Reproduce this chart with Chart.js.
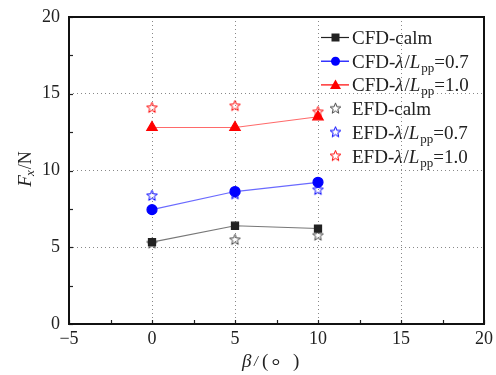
<!DOCTYPE html>
<html><head><meta charset="utf-8">
<script src="https://cdn.jsdelivr.net/npm/chart.js@4/dist/chart.umd.min.js"></script>
<style>html,body{margin:0;padding:0;background:#fff}#wrap{width:496px;height:375px;position:relative}</style>
</head><body><div id="wrap"><canvas id="c" width="496" height="375"></canvas></div>
<script>
const xValues = [0, 5, 10];
const cfdCalm = [5.33, 6.4, 6.22];
const cfd07 = [7.45, 8.63, 9.23];
const cfd10 = [12.8, 12.8, 13.5];
const efdCalm = [5.27, 5.5, 5.78];
const efd07 = [8.37, 8.47, 8.75];
const efd10 = [14.1, 14.22, 13.83];
const xTicks = [-5, 0, 5, 10, 15, 20];
const yTicks = [0, 5, 10, 15, 20];
const legendLabels = [
  "CFD-calm",
  "CFD-{i:λ}/{i:L}{s:pp}=0.7",
  "CFD-{i:λ}/{i:L}{s:pp}=1.0",
  "EFD-calm",
  "EFD-{i:λ}/{i:L}{s:pp}=0.7",
  "EFD-{i:λ}/{i:L}{s:pp}=1.0"
];

const SERIF = '"Liberation Serif","DejaVu Serif",serif';

function starCanvas(color) {
  const c = document.createElement('canvas');
  c.width = 13; c.height = 13;
  const g = c.getContext('2d');
  g.strokeStyle = color; g.lineWidth = 1;
  g.beginPath();
  const R = 5.6, r = 2.4, cx = 6.5, cy = 6.8;
  for (let k = 0; k < 10; k++) {
    const rad = k % 2 === 0 ? R : r;
    const a = -Math.PI / 2 + k * Math.PI / 5;
    const x = cx + rad * Math.cos(a), y = cy + rad * Math.sin(a);
    if (k === 0) g.moveTo(x, y); else g.lineTo(x, y);
  }
  g.closePath(); g.stroke();
  return c;
}

const pts = arr => xValues.map((x, i) => ({x: x, y: arr[i]}));

const datasets = [
  {data: pts(cfdCalm), showLine: true, borderColor: '#777', backgroundColor: '#222', pointStyle: 'rect', pointRadius: 5, pointBorderColor: '#222', borderWidth: 1.2, mk: 'rect'},
  {data: pts(cfd07), showLine: true, borderColor: '#6a6aff', backgroundColor: '#0000ff', pointStyle: 'circle', pointRadius: 5, pointBorderColor: '#0000ff', borderWidth: 1.2, mk: 'circle'},
  {data: pts(cfd10), showLine: true, borderColor: '#ff6a6a', backgroundColor: '#ff0000', pointStyle: 'triangle', pointRadius: 6, pointBorderColor: '#ff0000', borderWidth: 1.2, mk: 'triangle'},
  {data: pts(efdCalm), showLine: false, pointStyle: starCanvas('#444'), pointRadius: 6, mk: 'star'},
  {data: pts(efd07), showLine: false, pointStyle: starCanvas('#0000ff'), pointRadius: 6, mk: 'star'},
  {data: pts(efd10), showLine: false, pointStyle: starCanvas('#ff0000'), pointRadius: 6, mk: 'star'}
];

function drawRich(ctx, str, x, y, size) {
  const parts = [];
  const re = /\{(i|s):([^}]*)\}|([^{]+)/g; let m;
  while ((m = re.exec(str))) {
    if (m[3]) parts.push({t: m[3], k: 'n'}); else parts.push({t: m[2], k: m[1]});
  }
  ctx.textBaseline = 'alphabetic'; ctx.textAlign = 'left';
  for (const p of parts) {
    if (p.k === 'n') { ctx.font = size + 'px ' + SERIF; ctx.fillText(p.t, x, y); x += ctx.measureText(p.t).width; }
    else if (p.k === 'i') { ctx.font = 'italic ' + size + 'px ' + SERIF; ctx.fillText(p.t, x, y); x += ctx.measureText(p.t).width + 1; }
    else { const ss = Math.round(size * 0.68); ctx.font = ss + 'px ' + SERIF; ctx.fillText(p.t, x, y + 4); x += ctx.measureText(p.t).width; }
  }
}

const deco = {
  id: 'deco',
  beforeDatasetsDraw(chart) {
    const ctx = chart.ctx, a = chart.chartArea, xs = chart.scales.x, ys = chart.scales.y;
    ctx.save();
    ctx.strokeStyle = '#222'; ctx.lineWidth = 1.2;
    for (let v = -5; v <= 20; v += 2.5) {
      const px = Math.round(xs.getPixelForValue(v)) + 0.5;
      ctx.beginPath(); ctx.moveTo(px, a.bottom); ctx.lineTo(px, a.bottom - 4); ctx.stroke();
    }
    for (let v = 0; v <= 20; v += 2.5) {
      const py = Math.round(ys.getPixelForValue(v)) + 0.5;
      ctx.beginPath(); ctx.moveTo(a.left, py); ctx.lineTo(a.left + 4, py); ctx.stroke();
    }
    ctx.restore();
  },
  afterDraw(chart) {
    const ctx = chart.ctx, a = chart.chartArea;
    ctx.save();
    ctx.strokeStyle = '#111'; ctx.lineWidth = 2;
    ctx.strokeRect(a.left, a.top, a.right - a.left, a.bottom - a.top);
    ctx.fillStyle = '#222';
    // y title
    ctx.save();
    ctx.translate(26, 169); ctx.rotate(-Math.PI / 2);
    ctx.font = 'italic 19px ' + SERIF;
    const w1 = ctx.measureText('F').width;
    ctx.font = 'italic 13px ' + SERIF;
    const w2 = ctx.measureText('x').width;
    ctx.font = '18px ' + SERIF;
    const w3 = ctx.measureText('/N').width;
    let x0 = -(w1 + w2 + w3) / 2;
    ctx.textBaseline = 'middle';
    ctx.font = 'italic 19px ' + SERIF; ctx.fillText('F', x0, 0); x0 += w1;
    ctx.font = 'italic 13px ' + SERIF; ctx.fillText('x', x0 - 1, 5); x0 += w2;
    ctx.font = '18px ' + SERIF; ctx.fillText('/N', x0, 0);
    ctx.restore();
    // x title
    ctx.textBaseline = 'middle'; ctx.textAlign = 'left';
    const ty = 362;
    ctx.font = 'italic 19px ' + SERIF; ctx.fillText('β', 242, ty);
    ctx.font = 'italic 14px ' + SERIF; ctx.fillText('/', 254, ty);
    ctx.font = '19px ' + SERIF; ctx.fillText('(', 262, ty);
    ctx.textAlign = 'center';
    ctx.font = '22px ' + SERIF; ctx.fillText('°', 276, ty + 5);
    ctx.textAlign = 'left';
    ctx.font = '19px ' + SERIF; ctx.fillText(')', 293, ty);
    // legend
    for (let i = 0; i < datasets.length; i++) {
      const d = datasets[i];
      const cy = 37.5 + i * 23.7;
      const mx = 335.5;
      if (d.mk !== 'star') {
        ctx.strokeStyle = d.mk === 'rect' ? '#222' : d.backgroundColor; ctx.lineWidth = 1.2;
        ctx.beginPath(); ctx.moveTo(321, cy); ctx.lineTo(349, cy); ctx.stroke();
        ctx.fillStyle = d.backgroundColor;
        if (d.mk === 'rect') ctx.fillRect(mx - 4, cy - 4, 8, 8);
        else if (d.mk === 'circle') { ctx.beginPath(); ctx.arc(mx, cy, 4.5, 0, Math.PI * 2); ctx.fill(); }
        else { ctx.beginPath(); ctx.moveTo(mx, cy - 5.5); ctx.lineTo(mx + 5.5, cy + 4); ctx.lineTo(mx - 5.5, cy + 4); ctx.closePath(); ctx.fill(); }
      } else {
        ctx.drawImage(d.pointStyle, mx - 6.5, cy - 6.8);
      }
      ctx.fillStyle = '#222';
      drawRich(ctx, legendLabels[i], 352, cy + 6.5, 19);
    }
    ctx.restore();
  }
};

const gridColor = (ctx, lo, hi) => (ctx.tick && (ctx.tick.value === lo || ctx.tick.value === hi)) ? 'rgba(0,0,0,0)' : '#888';

new Chart(document.getElementById('c'), {
  type: 'scatter',
  data: {datasets: datasets},
  options: {
    responsive: false, animation: false, devicePixelRatio: 1,
    layout: {padding: {top: 17, right: 12, left: 0, bottom: 0}},
    plugins: {legend: {display: false}, tooltip: {enabled: false}},
    scales: {
      x: {
        min: -5, max: 20,
        afterBuildTicks: s => { s.ticks = xTicks.map(v => ({value: v})); },
        afterFit: s => { s.height = 51; s.paddingLeft = 0; s.paddingRight = 0; },
        grid: {color: c => gridColor(c, -5, 20), lineWidth: 1, drawTicks: false},
        border: {display: false, dash: [1, 3]},
        ticks: {padding: 4, color: '#222', font: {family: SERIF, size: 18}, maxRotation: 0,
          callback: v => (v < 0 ? '\u2212' + Math.abs(v) : String(v))}
      },
      y: {
        min: 0, max: 20,
        afterBuildTicks: s => { s.ticks = yTicks.map(v => ({value: v})); },
        afterFit: s => { s.width = 69; s.paddingTop = 0; s.paddingBottom = 0; },
        grid: {color: c => gridColor(c, 0, 20), lineWidth: 1, drawTicks: false},
        border: {display: false, dash: [1, 3]},
        ticks: {padding: 9, color: '#222', font: {family: SERIF, size: 18}}
      }
    }
  },
  plugins: [deco]
});
</script></body></html>
